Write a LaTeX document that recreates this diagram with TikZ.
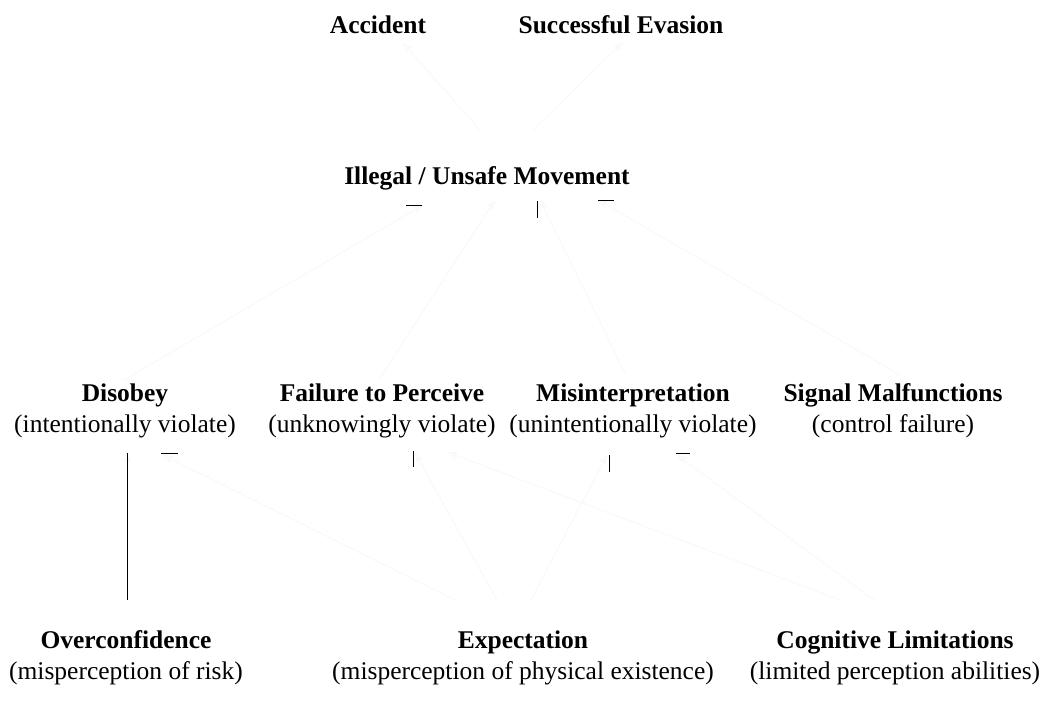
\documentclass[tikz,border=0pt]{standalone}
\usepackage{fontspec}
\setmainfont{Liberation Serif}
\usetikzlibrary{arrows.meta,calc}
\begin{document}
\begin{tikzpicture}[x=1pt,y=-1pt,
  lbl/.style={inner sep=0pt,align=center,font=\fontsize{25.5}{31}\selectfont},
  edge/.style={draw=black!3,line width=0.7pt,-{Stealth[length=10pt,width=7pt,open]}},
  tick/.style={draw=black,line width=1pt}]
\useasboundingbox[fill=white] (0,0) rectangle (1050,702);
% nodes
\node[lbl] (acc) at (378,25) {\textbf{Accident}};
\node[lbl] (suc) at (621,25) {\textbf{Successful Evasion}};
\node[lbl] (ill) at (487,178) {\textbf{Illegal / Unsafe Movement}};
\node[lbl] (dis) at (125,411) {\textbf{Disobey}\\(intentionally violate)};
\node[lbl] (fail) at (382,411) {\textbf{Failure to Perceive}\\(unknowingly violate)};
\node[lbl] (mis) at (633,411) {\textbf{Misinterpretation}\\(unintentionally violate)};
\node[lbl] (sig) at (893,411) {\textbf{Signal Malfunctions}\\(control failure)};
\node[lbl] (over) at (126,658) {\textbf{Overconfidence}\\(misperception of risk)};
\node[lbl] (exp) at (523,658) {\textbf{Expectation}\\(misperception of physical existence)};
\node[lbl] (cog) at (895,658) {\textbf{Cognitive Limitations}\\(limited perception abilities)};
% faint connectors
\draw[edge] ([shift={(-7,-48)}]ill.center) -- ([shift={(25,18)}]acc.center);
\draw[edge] ([shift={(46,-48)}]ill.center) -- ([shift={(2,17)}]suc.center);
\draw[edge] ([shift={(-1,-31)}]dis.center) -- ([shift={(-64,27)}]ill.center);
\draw[edge] ([shift={(-2,-33)}]fail.center) -- ([shift={(8,22)}]ill.center);
\draw[edge] ([shift={(-8,-38)}]mis.center) -- ([shift={(53,22)}]ill.center);
\draw[edge] ([shift={(7,-36)}]sig.center) -- ([shift={(111,22)}]ill.center);
\draw[edge] ([shift={(1,-58)}]over.center) -- ([shift={(2,42)}]dis.center);
\draw[edge] ([shift={(-68,-58)}]exp.center) -- ([shift={(38,44)}]dis.center);
\draw[edge] ([shift={(-26,-58)}]exp.center) -- ([shift={(33,42)}]fail.center);
\draw[edge] ([shift={(8,-58)}]exp.center) -- ([shift={(-26,44)}]mis.center);
\draw[edge] ([shift={(-55,-58)}]cog.center) -- ([shift={(65,41)}]fail.center);
\draw[edge] ([shift={(-21,-58)}]cog.center) -- ([shift={(44,44)}]mis.center);
% black tick marks
\draw[tick] (406,205) -- (422,205);
\draw[tick] (537,201) -- (537,218);
\draw[tick] (598,200) -- (614,200);
\draw[tick] (161,453) -- (178,453);
\draw[tick] (413,451) -- (413,467);
\draw[tick] (609,455) -- (609,472);
\draw[tick] (676,453) -- (690,453);
\draw[tick] (127,453) -- (127,600);
\end{tikzpicture}
\end{document}
